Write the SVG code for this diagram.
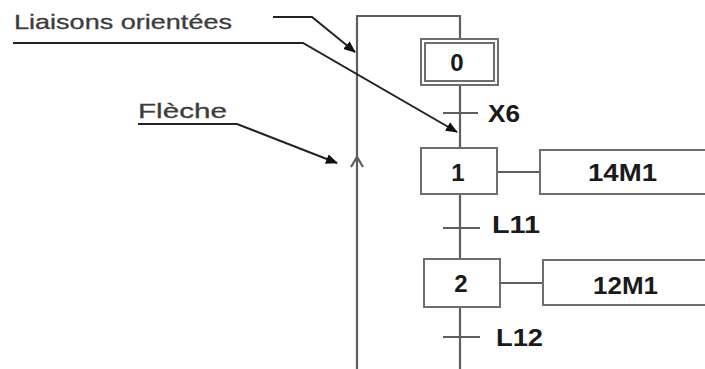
<svg xmlns="http://www.w3.org/2000/svg" width="705" height="369" viewBox="0 0 705 369">
<defs>
<style>
.ln{stroke:#5e5e5e;stroke-width:2.2;fill:none}
.box{stroke:#6e6e6e;stroke-width:2;fill:#fff}
.ann{stroke:#222;stroke-width:2;fill:none}
.lbl{font-family:"Liberation Sans",Arial,sans-serif;font-size:21px;fill:#3c3c3c;stroke:#3c3c3c;stroke-width:0.3}
.t{font-family:"Liberation Sans",Arial,sans-serif;font-size:24px;font-weight:bold;fill:#1a1a1a}
</style>
<marker id="ah" viewBox="0 0 12 10" refX="11" refY="5" markerWidth="12" markerHeight="10" markerUnits="userSpaceOnUse" orient="auto">
<path d="M0,0 L12,5 L0,10 z" fill="#111"/>
</marker>
</defs>
<rect width="705" height="369" fill="#fff"/>
<g id="connectors">
<path class="ln" d="M460,40 V16 H357 V369"/>
<path class="ln" d="M351,167 L357,157 L363,167"/>
<line class="ln" x1="460" y1="85" x2="460" y2="148"/>
<line class="ln" x1="443" y1="113" x2="478" y2="113"/>
<line class="ln" x1="460" y1="194" x2="460" y2="259"/>
<line class="ln" x1="443" y1="228" x2="480" y2="228"/>
<line class="ln" x1="460" y1="307" x2="460" y2="369"/>
<line class="ln" x1="443" y1="337" x2="480" y2="337"/>
<line class="ln" x1="497" y1="172" x2="540" y2="172"/>
<line class="ln" x1="500" y1="283" x2="543" y2="283"/>
<text class="t" x="488" y="122" textLength="32" lengthAdjust="spacingAndGlyphs">X6</text>
<text class="t" x="492" y="233" textLength="48" lengthAdjust="spacingAndGlyphs">L11</text>
<text class="t" x="496" y="346" textLength="47" lengthAdjust="spacingAndGlyphs">L12</text>
</g>
<g id="step0">
<rect class="box" x="421" y="39" width="77" height="46"/>
<rect class="box" x="425" y="43" width="69" height="38"/>
<text class="t" x="457" y="71" text-anchor="middle">0</text>
</g>
<g id="step1">
<rect class="box" x="421" y="148" width="76" height="46"/>
<text class="t" x="458" y="181" text-anchor="middle">1</text>
</g>
<g id="action1">
<rect class="box" x="540" y="150" width="175" height="44"/>
<text class="t" x="588" y="181" textLength="69" lengthAdjust="spacingAndGlyphs">14M1</text>
</g>
<g id="step2">
<rect class="box" x="424" y="259" width="76" height="48"/>
<text class="t" x="461" y="292" text-anchor="middle">2</text>
</g>
<g id="action2">
<rect class="box" x="543" y="260" width="175" height="45"/>
<text class="t" x="593" y="294" textLength="65" lengthAdjust="spacingAndGlyphs">12M1</text>
</g>
<g id="annotation-liaisons">
<text class="lbl" x="14" y="29" textLength="218" lengthAdjust="spacingAndGlyphs">Liaisons orientées</text>
<path class="ann" d="M273,17 H312 L355,52" marker-end="url(#ah)"/>
<path class="ann" d="M13,43 H303 L457,132" marker-end="url(#ah)"/>
</g>
<g id="annotation-fleche">
<text class="lbl" x="138" y="118" textLength="89" lengthAdjust="spacingAndGlyphs">Flèche</text>
<path class="ann" d="M138,124 H237 L337,163" marker-end="url(#ah)"/>
</g>
</svg>
